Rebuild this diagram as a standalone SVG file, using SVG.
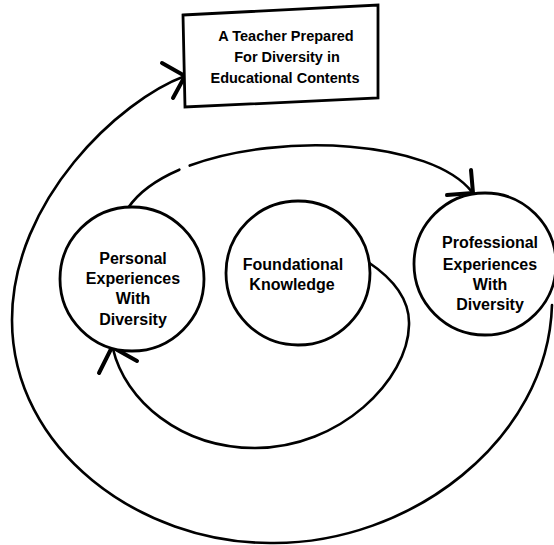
<svg xmlns="http://www.w3.org/2000/svg" width="554" height="545" viewBox="0 0 554 545">
<style>
.ln{fill:none;stroke:#000;stroke-width:2.6;stroke-linecap:round;stroke-linejoin:round}
.ah{fill:none;stroke:#000;stroke-width:4;stroke-linecap:round}
.nd{fill:#fff;stroke:#000;stroke-width:2.8}
.t{font-family:"Liberation Sans",Arial,Helvetica,sans-serif;font-weight:bold;fill:#000;text-anchor:middle}
.tb{font-size:14.5px}
.tc{font-size:16px}
</style>
<rect width="554" height="545" fill="#fff"/>
<g id="connectors">
<path class="ln" d="M552,305 C548,440 410,545 270,543 C140,543 12,450 12,320 C12,200 120,100 185,76"/>
<path class="ah" d="M162,63 L185,76 L173,98"/>
<path class="ln" pathLength="100" stroke-dasharray="17.5 3 200" d="M128,208 C180,130 420,125 472,192"/>
<path class="ah" d="M471,170 L473,193 L447,195"/>
<path class="ln" d="M368,262 C395,280 410,300 409,325 C408,380 340,448 255,448 C180,448 125,400 113,349"/>
<path class="ah" d="M137,361 L112,347 L99,373"/>
</g>
<g id="teacher">
<polygon class="nd" points="183,15 378,5 378,98 185,107"/>
<text class="t tb" x="286" y="41">A Teacher Prepared</text>
<text class="t tb" x="287" y="62">For Diversity in</text>
<text class="t tb" x="285" y="83">Educational Contents</text>
</g>
<g id="personal">
<circle class="nd" cx="132" cy="279" r="72"/>
<text class="t tc" x="133" y="264">Personal</text>
<text class="t tc" x="133" y="284">Experiences</text>
<text class="t tc" x="133" y="304">With</text>
<text class="t tc" x="133" y="325">Diversity</text>
</g>
<g id="foundational">
<circle class="nd" cx="298" cy="273" r="72"/>
<text class="t tc" x="293" y="270">Foundational</text>
<text class="t tc" x="292" y="290">Knowledge</text>
</g>
<g id="professional">
<circle class="nd" cx="485" cy="264" r="71"/>
<text class="t tc" x="490" y="248">Professional</text>
<text class="t tc" x="490" y="270">Experiences</text>
<text class="t tc" x="490" y="290">With</text>
<text class="t tc" x="490" y="310">Diversity</text>
</g>
</svg>
